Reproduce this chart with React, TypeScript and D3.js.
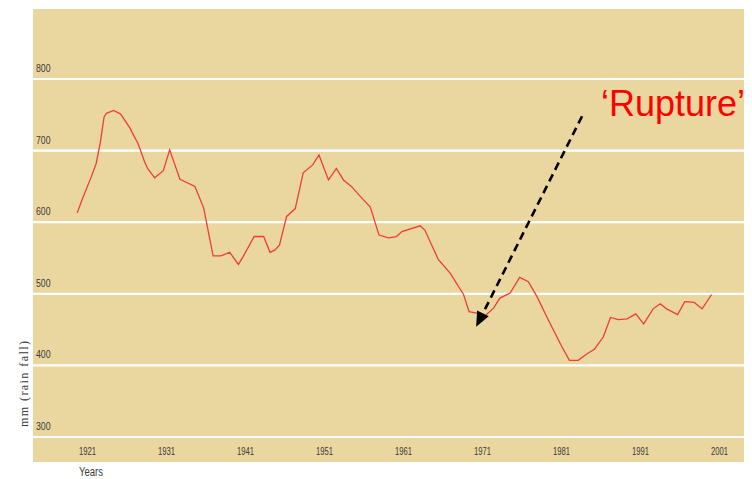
import React from 'react';
import * as d3 from 'd3';

// rainfall trace (mm)
const years = [
  1919.7, 1920.3, 1921.5, 1922.1, 1922.6, 1923.1, 1923.4, 1924.3, 1925.2, 1926.4,
  1926.7, 1927.4, 1928.2, 1928.6, 1929.5, 1930.6, 1931.4, 1932.7, 1934.6, 1935.7,
  1936.9, 1937.9, 1939.0, 1940.1, 1940.7, 1942.1, 1943.3, 1944.1, 1944.7, 1945.3,
  1946.2, 1947.3, 1948.3, 1949.5, 1950.3, 1951.5, 1952.5, 1953.4, 1954.4, 1955.7,
  1956.8, 1957.9, 1959.1, 1960.1, 1960.8, 1963.1, 1963.7, 1965.4, 1966.9, 1968.6,
  1969.3, 1970.3, 1971.3, 1972.4, 1973.2, 1974.5, 1975.7, 1976.8, 1977.9, 1979.3,
  1981.0, 1982.0, 1983.1, 1984.2, 1985.2, 1986.3, 1987.2, 1988.2, 1989.3, 1990.4,
  1991.4, 1992.6, 1993.5, 1994.3, 1995.7, 1996.6, 1997.8, 1998.8, 2000.0
];
const rainfall = [
  613, 631, 664, 682, 710, 747, 752, 756, 751, 731,
  724, 710, 685, 675, 662, 672, 701, 660, 650, 620,
  553, 553, 558, 541, 552, 580, 580, 558, 561, 568,
  608, 619, 669, 680, 694, 659, 675, 659, 650, 634,
  621, 582, 578, 580, 587, 595, 589, 548, 529, 499,
  475, 473, 469, 480, 494, 501, 523, 517, 496, 464,
  427, 407, 407, 416, 423, 440, 467, 464, 465, 472,
  458, 479, 486, 479, 471, 489, 488, 479, 499
];
const yTicks = [300, 400, 500, 600, 700, 800];
const xTicks = [1921, 1931, 1941, 1951, 1961, 1971, 1981, 1991, 2001];

// annotation: arrow from the label down to the 1970 low
const arrowFrom = { year: 1983.6, value: 748 };
const arrowTo = { year: 1970.2, value: 454 };
const labelAt = { year: 1986.0, value: 748 };

const W = 752;
const H = 479;
const panel = { left: 33, top: 9, right: 744, bottom: 462 };

export default function App() {
  const x = d3.scaleLinear().domain([1921, 2001]).range([87.5, 719.5]);
  const y = d3.scaleLinear().domain([300, 800]).range([437, 79]);

  const pts: [number, number][] = years.map((yr, i) => [yr, rainfall[i]]);
  const line = d3.line<[number, number]>()
    .x(d => x(d[0]))
    .y(d => y(d[1]));

  // arrow head geometry
  const x0 = x(arrowFrom.year), y0 = y(arrowFrom.value);
  const x1 = x(arrowTo.year), y1 = y(arrowTo.value);
  const len = Math.hypot(x1 - x0, y1 - y0);
  const ux = (x1 - x0) / len, uy = (y1 - y0) / len;
  const headLen = 15, headHalf = 6.5;
  const bx = x1 - ux * headLen, by = y1 - uy * headLen;
  const head = [
    [x1, y1],
    [bx - uy * headHalf, by + ux * headHalf],
    [bx + uy * headHalf, by - ux * headHalf],
  ].map(p => p.join(',')).join(' ');

  const narrow = "'Liberation Sans Narrow', 'Liberation Sans', Arial, sans-serif";

  return (
    <svg width={W} height={H} style={{ position: 'absolute', left: 0, top: 0 }}>
      <rect x={0} y={0} width={W} height={H} fill="#ffffff" />
      <rect
        x={panel.left}
        y={panel.top}
        width={panel.right - panel.left}
        height={panel.bottom - panel.top}
        fill="#ead69f"
      />
      {yTicks.map(t => (
        <g key={t}>
          <line
            x1={panel.left}
            x2={panel.right}
            y1={y(t)}
            y2={y(t)}
            stroke="#ffffff"
            strokeWidth={2.2}
          />
          <text
            x={36}
            y={y(t) - 7}
            fontFamily={narrow}
            fontSize={11}
            fill="#3a3a3a"
            textLength={14.5}
            lengthAdjust="spacingAndGlyphs"
          >
            {t}
          </text>
        </g>
      ))}
      {xTicks.map(t => (
        <text
          key={t}
          x={x(t) - 8.5}
          y={455}
          fontFamily={narrow}
          fontSize={11}
          fill="#3a3a3a"
          textLength={17}
          lengthAdjust="spacingAndGlyphs"
        >
          {t}
        </text>
      ))}
      <text
        x={79}
        y={476}
        fontFamily={narrow}
        fontSize={12}
        fill="#3a3a3a"
        textLength={24}
        lengthAdjust="spacingAndGlyphs"
      >
        Years
      </text>
      <text
        transform={`translate(28,384) rotate(-90)`}
        textAnchor="middle"
        fontFamily="'Liberation Serif', 'DejaVu Serif', serif"
        fontSize={12}
        fill="#3a3a3a"
        textLength={86}
        lengthAdjust="spacing"
      >
        mm (rain fall)
      </text>
      <path d={line(pts) || ''} fill="none" stroke="#ec3f35" strokeWidth={1.3} />
      <line
        x1={x0}
        y1={y0}
        x2={bx}
        y2={by}
        stroke="#000000"
        strokeWidth={2.6}
        strokeDasharray="8,5"
      />
      <polygon points={head} fill="#000000" />
      <text
        x={x(labelAt.year)}
        y={y(labelAt.value)}
        fontFamily="'Liberation Sans', Arial, sans-serif"
        fontSize={36}
        fill="#ff0000"
      >
        ‘Rupture’
      </text>
    </svg>
  );
}
